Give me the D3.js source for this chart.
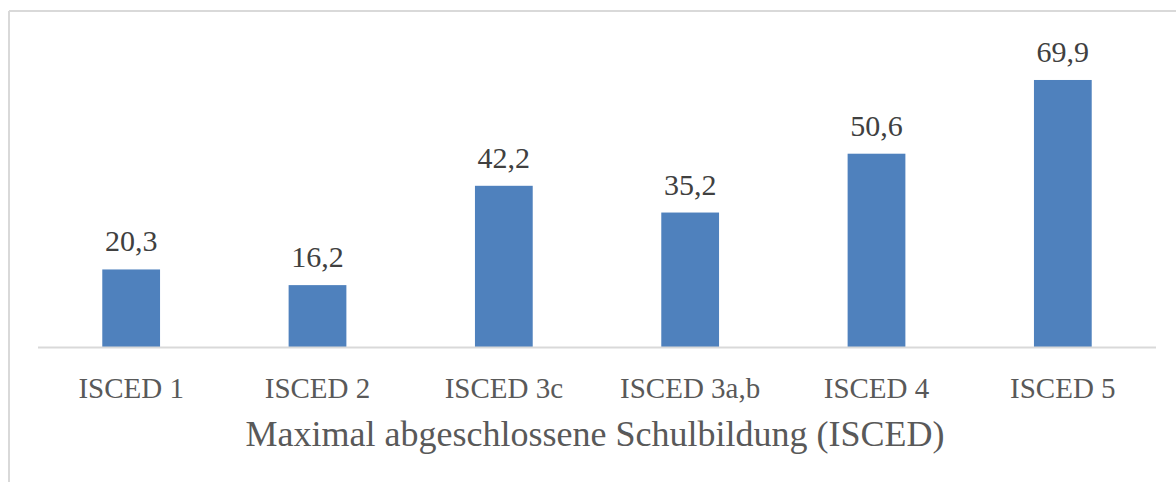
<!DOCTYPE html>
<html>
<head>
<meta charset="utf-8">
<script src="https://cdn.jsdelivr.net/npm/d3@7"></script>
<style>
  body { margin: 0; background: #fff; }
  svg text { font-family: "Liberation Serif", "Times New Roman", serif; }
</style>
</head>
<body>
<svg width="1176" height="482"></svg>
<script>
// chart data
var categories = ["ISCED 1", "ISCED 2", "ISCED 3c", "ISCED 3a,b", "ISCED 4", "ISCED 5"];
var values = [20.3, 16.2, 42.2, 35.2, 50.6, 69.9];
var axisTitle = "Maximal abgeschlossene Schulbildung (ISCED)";

var svg = d3.select("svg"),
    width = +svg.attr("width"),
    height = +svg.attr("height");

var data = categories.map(function (c, i) { return { cat: c, val: values[i] }; });

// outer frame (only top and left are visible in the picture)
svg.append("line")
    .attr("x1", 9).attr("x2", width).attr("y1", 11).attr("y2", 11)
    .style("stroke", "#d9d9d9").style("stroke-width", 2);
svg.append("line")
    .attr("x1", 9).attr("x2", 9).attr("y1", 11).attr("y2", height)
    .style("stroke", "#d9d9d9").style("stroke-width", 2);

var x = d3.scaleBand()
    .domain(categories)
    .range([38, 1156])
    .paddingInner(0.69)
    .paddingOuter(0.345);

var y = d3.scaleLinear()
    .domain([0, 80])
    .range([347, 347 - 80 * 3.82]);

// bars
svg.append("g")
    .selectAll("rect")
    .data(data)
    .enter().append("rect")
    .attr("x", function (d) { return x(d.cat); })
    .attr("width", x.bandwidth())
    .attr("y", function (d) { return y(d.val); })
    .attr("height", function (d) { return y(0) - y(d.val); })
    .attr("fill", "#4f81bd");

// baseline axis
var xAxis = svg.append("g")
    .attr("transform", "translate(0," + y(0) + ")")
    .call(d3.axisBottom(x).tickSize(0).tickPadding(30));
xAxis.select(".domain").attr("d", "M38,0.5H1156").style("stroke", "#d9d9d9").style("stroke-width", 2);
xAxis.selectAll("text")
    .style("font-family", "'Liberation Serif', serif")
    .style("font-size", "29px")
    .style("fill", "#595959");

// value labels
svg.append("g")
    .selectAll("text")
    .data(data)
    .enter().append("text")
    .attr("x", function (d) { return x(d.cat) + x.bandwidth() / 2; })
    .attr("y", function (d) { return y(d.val) - 18; })
    .attr("text-anchor", "middle")
    .style("font-size", "30px")
    .style("fill", "#404040")
    .text(function (d) { return d3.format(".1f")(d.val).replace(".", ","); });

// axis title
svg.append("text")
    .attr("x", 595)
    .attr("y", 446)
    .attr("text-anchor", "middle")
    .style("font-size", "36px")
    .style("fill", "#595959")
    .text(axisTitle);
</script>
</body>
</html>
